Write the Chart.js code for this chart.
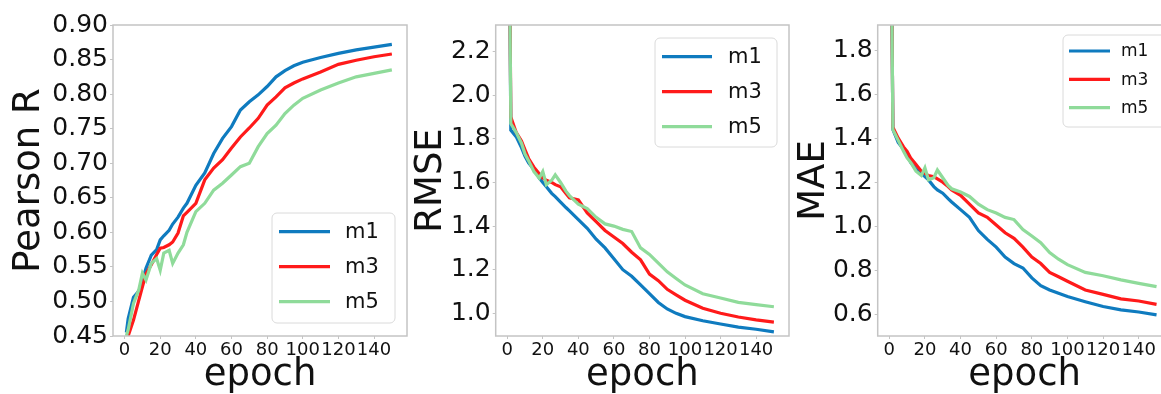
<!DOCTYPE html>
<html>
<head>
<meta charset="utf-8">
<script src="https://cdn.jsdelivr.net/npm/chart.js@4.4.1/dist/chart.umd.min.js"></script>
<style>
  html, body { margin: 0; padding: 0; background: #fff; overflow: hidden; width: 1161px; height: 394px; }
  .panel { position: absolute; top: 0; }
</style>
</head>
<body>
<canvas id="pearson" class="panel" width="420" height="394" style="left:0px"></canvas>
<canvas id="rmse" class="panel" width="400" height="394" style="left:400px"></canvas>
<canvas id="mae" class="panel" width="400" height="394" style="left:790px"></canvas>
<script>
// values
const seriesNames = ['m1', 'm3', 'm5'];
const epochs = [1, 2, 5, 8, 10, 12, 15, 18, 20, 22, 25, 27, 30, 33, 35, 40, 45, 50, 55, 60,
  65, 70, 75, 80, 85, 90, 95, 100, 110, 120, 130, 140, 150];
const epochTicks = [0, 20, 40, 60, 80, 100, 120, 140];

const pearsonTicks = [0.45, 0.50, 0.55, 0.60, 0.65, 0.70, 0.75, 0.80, 0.85, 0.90];
const pearsonM1 = [0.455, 0.475, 0.506, 0.515, 0.530, 0.548, 0.567, 0.575, 0.589, 0.595, 0.603, 0.612, 0.622,
  0.635, 0.642, 0.668, 0.686, 0.714, 0.736, 0.753, 0.777, 0.789, 0.799, 0.811, 0.825, 0.834, 0.841,
  0.846, 0.853, 0.859, 0.864, 0.868, 0.872];
const pearsonM3 = [0.440, 0.450, 0.473, 0.502, 0.521, 0.540, 0.553, 0.568, 0.577, 0.578, 0.582, 0.586, 0.599,
  0.624, 0.629, 0.642, 0.676, 0.693, 0.705, 0.722, 0.738, 0.751, 0.765, 0.784, 0.796, 0.809, 0.816,
  0.822, 0.832, 0.843, 0.849, 0.854, 0.858];
const pearsonM5 = [0.450, 0.459, 0.497, 0.517, 0.541, 0.531, 0.555, 0.562, 0.545, 0.570, 0.574, 0.555, 0.570,
  0.582, 0.600, 0.630, 0.642, 0.661, 0.671, 0.683, 0.695, 0.700, 0.724, 0.743, 0.755, 0.772, 0.784,
  0.794, 0.806, 0.816, 0.825, 0.830, 0.835];

const rmseTicks = [1.0, 1.2, 1.4, 1.6, 1.8, 2.0, 2.2];
const rmseM1 = [3.0, 1.84, 1.81, 1.76, 1.72, 1.69, 1.66, 1.62, 1.60, 1.58, 1.55, 1.535, 1.51,
  1.485, 1.47, 1.43, 1.39, 1.34, 1.30, 1.25, 1.20, 1.17, 1.13, 1.09, 1.05, 1.02, 1.00,
  0.985, 0.966, 0.951, 0.937, 0.927, 0.915];
const rmseM3 = [3.0, 1.90, 1.83, 1.79, 1.75, 1.71, 1.67, 1.64, 1.62, 1.61, 1.60, 1.59, 1.58,
  1.55, 1.53, 1.52, 1.46, 1.42, 1.38, 1.35, 1.32, 1.28, 1.245, 1.18, 1.15, 1.11, 1.085,
  1.06, 1.023, 1.00, 0.983, 0.97, 0.96];
const rmseM5 = [3.0, 1.87, 1.83, 1.78, 1.73, 1.70, 1.65, 1.62, 1.65, 1.59, 1.61, 1.635, 1.60,
  1.56, 1.54, 1.50, 1.48, 1.44, 1.41, 1.40, 1.385, 1.375, 1.30, 1.27, 1.23, 1.19, 1.16,
  1.13, 1.09, 1.07, 1.05, 1.04, 1.03];

const maeTicks = [0.6, 0.8, 1.0, 1.2, 1.4, 1.6, 1.8];
const maeM1 = [2.5, 1.44, 1.38, 1.35, 1.32, 1.29, 1.26, 1.24, 1.225, 1.21, 1.18, 1.165, 1.15,
  1.125, 1.11, 1.075, 1.04, 0.98, 0.94, 0.905, 0.86, 0.83, 0.81, 0.765, 0.73, 0.71, 0.695,
  0.68, 0.657, 0.635, 0.62, 0.61, 0.597];
const maeM3 = [2.5, 1.45, 1.40, 1.36, 1.34, 1.31, 1.28, 1.25, 1.24, 1.23, 1.225, 1.215, 1.20,
  1.18, 1.165, 1.14, 1.10, 1.06, 1.04, 1.005, 0.97, 0.945, 0.905, 0.86, 0.83, 0.79, 0.77,
  0.75, 0.71, 0.69, 0.67, 0.66, 0.645];
const maeM5 = [2.5, 1.44, 1.39, 1.34, 1.31, 1.29, 1.25, 1.23, 1.265, 1.21, 1.22, 1.255, 1.22,
  1.185, 1.17, 1.155, 1.135, 1.10, 1.075, 1.06, 1.04, 1.03, 0.985, 0.955, 0.925, 0.88, 0.85,
  0.825, 0.79, 0.775, 0.756, 0.74, 0.725];

const lineColors = ['#0f7bbf', '#ff1a1a', '#8fdb9a'];
const FONT = "'DejaVu Sans', sans-serif";
const INK = '#111';
const FRAME = '#c4c4c4';

Chart.defaults.font.family = FONT;
Chart.defaults.color = INK;

const framePlugin = {
  id: 'frame',
  afterDatasetsDraw(chart) {
    const { ctx, chartArea: a } = chart;
    ctx.save();
    ctx.strokeStyle = FRAME;
    ctx.lineWidth = 1.5;
    ctx.strokeRect(a.left, a.top, a.right - a.left, a.bottom - a.top);
    ctx.restore();
  },
};

const legendPlugin = {
  id: 'boxLegend',
  afterDraw(chart, args, o) {
    const ctx = chart.ctx;
    ctx.save();
    ctx.beginPath();
    if (ctx.roundRect) ctx.roundRect(o.x, o.y, o.w, o.h, 5);
    else ctx.rect(o.x, o.y, o.w, o.h);
    ctx.fillStyle = 'rgba(255,255,255,0.85)';
    ctx.fill();
    ctx.strokeStyle = '#dadada';
    ctx.lineWidth = 1;
    ctx.stroke();
    ctx.font = `${o.fontSize}px ${FONT}`;
    ctx.textBaseline = 'middle';
    chart.data.datasets.forEach((ds, i) => {
      const y = o.rowY + i * o.rowGap;
      ctx.beginPath();
      ctx.strokeStyle = ds.borderColor;
      ctx.lineWidth = ds.borderWidth;
      ctx.moveTo(o.lineX[0], y);
      ctx.lineTo(o.lineX[1], y);
      ctx.stroke();
      ctx.fillStyle = INK;
      ctx.fillText(ds.label, o.textX, y + 1);
    });
    ctx.restore();
  },
};

function toPoints(values) {
  return epochs.map((e, i) => ({ x: e, y: values[i] }));
}

const tickGrid = { display: true, drawOnChartArea: false, drawTicks: true, tickLength: 3, color: FRAME, lineWidth: 1 };

function makePanel(id, o) {
  const ctx = document.getElementById(id).getContext('2d');
  return new Chart(ctx, {
    type: 'line',
    data: {
      datasets: seriesNames.map((name, i) => ({
        label: name,
        data: toPoints(o.series[i]),
        borderColor: lineColors[i],
        borderWidth: 3.2,
        pointRadius: 0,
        tension: 0,
        order: 2 - i,
      })),
    },
    options: {
      responsive: false,
      animation: false,
      devicePixelRatio: 1,
      layout: { padding: { top: 25, right: o.padRight, left: 0, bottom: 0 } },
      plugins: {
        legend: { display: false },
        tooltip: { enabled: false },
        boxLegend: o.legend,
      },
      scales: {
        x: {
          type: 'linear',
          min: -6.5,
          max: 158.5,
          grid: tickGrid,
          border: { display: false },
          afterBuildTicks: s => { s.ticks = epochTicks.map(v => ({ value: v })); },
          afterFit: s => { s.height = 58; },
          ticks: { font: { size: 18 }, padding: 1, maxRotation: 0, autoSkip: false, callback: v => String(v) },
          title: { display: true, text: 'epoch', font: { size: 37, lineHeight: 1 }, padding: 0 },
        },
        y: {
          min: o.yMin,
          max: o.yMax,
          grid: tickGrid,
          border: { display: false },
          afterBuildTicks: s => { s.ticks = o.yTicks.map(v => ({ value: v })); },
          afterFit: s => { s.width = o.yWidth; },
          ticks: { font: { size: 25 }, padding: 2, autoSkip: false, callback: v => v.toFixed(o.digits) },
          title: { display: true, text: o.yTitle, font: { size: 37, lineHeight: 1 }, padding: { top: o.titlePad, bottom: 0 } },
        },
      },
    },
    plugins: [framePlugin, legendPlugin],
  });
}

makePanel('pearson', {
  series: [pearsonM1, pearsonM3, pearsonM5],
  yMin: 0.45, yMax: 0.90, yTicks: pearsonTicks, digits: 2,
  yTitle: 'Pearson R', yWidth: 113, padRight: 13, titlePad: 10.5,
  legend: { x: 272, y: 213, w: 123, h: 110, lineX: [279, 330], textX: 345, rowY: 231.7, rowGap: 35, fontSize: 21 },
});

makePanel('rmse', {
  series: [rmseM1, rmseM3, rmseM5],
  yMin: 0.896, yMax: 2.322, yTicks: rmseTicks, digits: 1,
  yTitle: 'RMSE', yWidth: 95.7, padRight: 11, titlePad: 13,
  legend: { x: 255, y: 38, w: 122, h: 109, lineX: [262, 312], textX: 328, rowY: 56.7, rowGap: 35, fontSize: 21 },
});

makePanel('mae', {
  series: [maeM1, maeM3, maeM5],
  yMin: 0.501, yMax: 1.914, yTicks: maeTicks, digits: 1,
  yTitle: 'MAE', yWidth: 87.7, padRight: 18.3, titlePad: 6,
  legend: { x: 273, y: 35, w: 130, h: 92, lineX: [279, 320], textX: 331, rowY: 51, rowGap: 28.3, fontSize: 17 },
});
</script>
</body>
</html>
